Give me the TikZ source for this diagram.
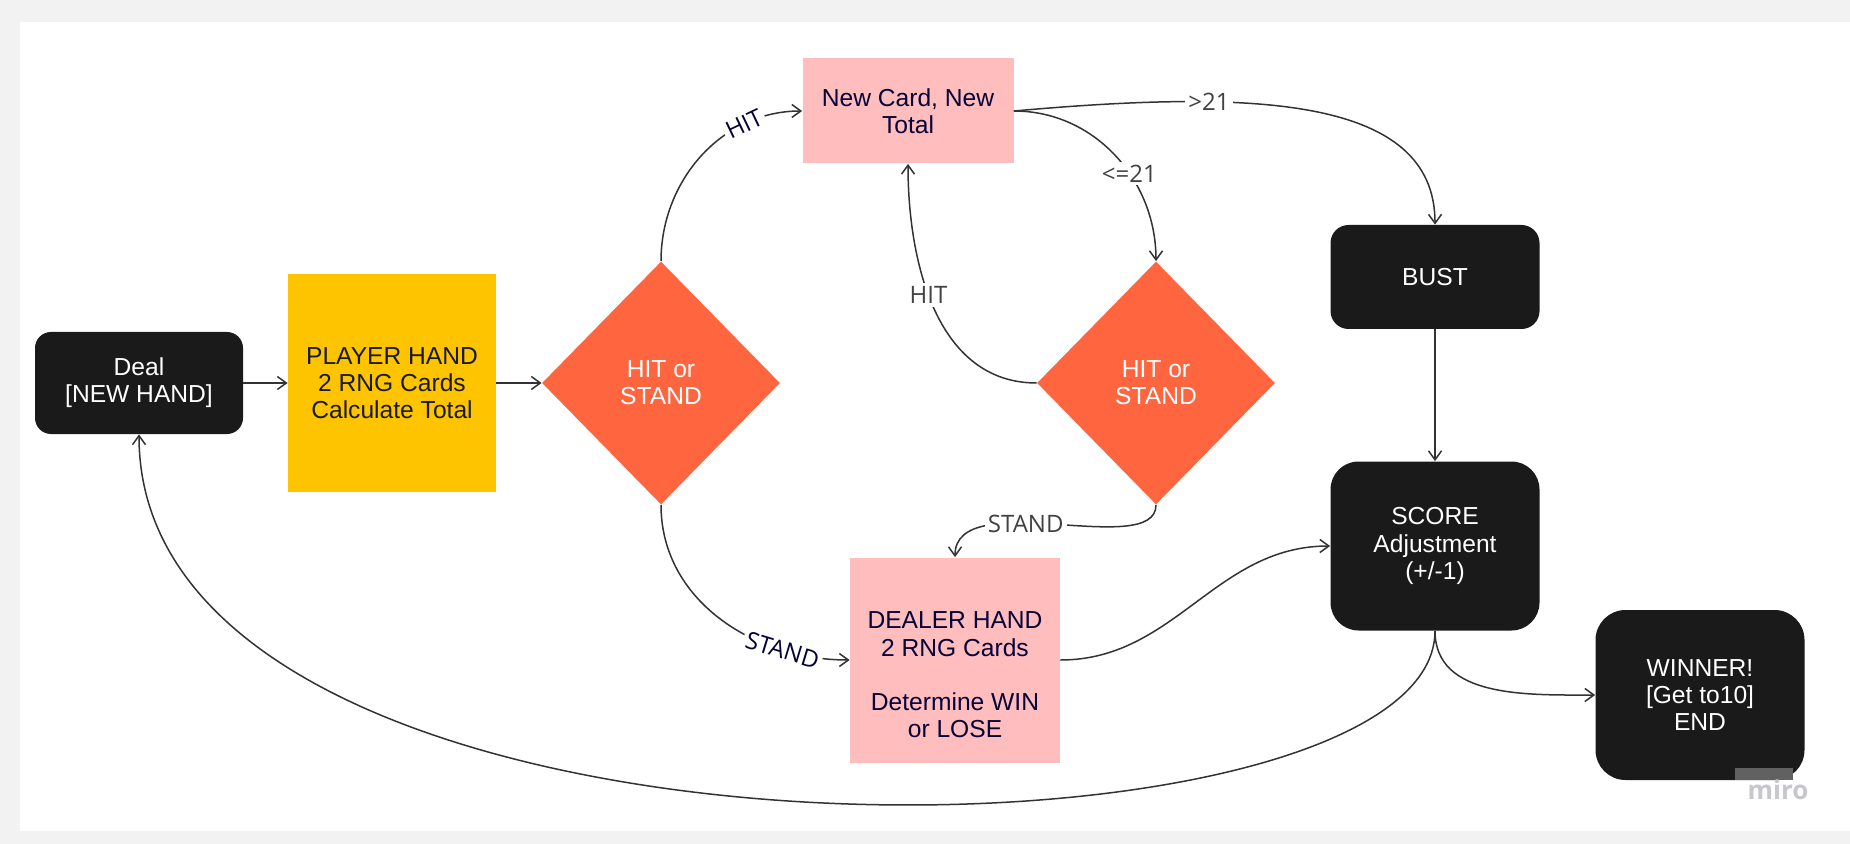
\documentclass[tikz,border=0pt]{standalone}
\usepackage{fontspec}
\setmainfont{Liberation Sans}
\newfontfamily\tagfont{Open Sans}
\usepackage{xcolor}
\usepackage{tikz}
\usetikzlibrary{shapes,arrows.meta,positioning}
\definecolor{boxblack}{HTML}{1A1A1A}
\definecolor{playeryellow}{HTML}{FEC400}
\definecolor{choiceorange}{HTML}{FF6640}
\definecolor{cardpink}{HTML}{FFBDBE}
\definecolor{inknavy}{HTML}{050038}
\definecolor{linegrey}{HTML}{333333}
\definecolor{taggrey}{HTML}{414141}
\definecolor{panelgrey}{HTML}{F2F2F2}
\definecolor{logogrey}{HTML}{C6C6CC}
\tikzstyle{line} = [draw=linegrey, line width=0.75pt, -{Straight Barb[length=4.5pt,width=6.5pt]}]
\tikzstyle{box} = [align=center, inner sep=0pt, font=\fontsize{12.3pt}{13.6pt}\selectfont]
\tikzstyle{blackbox} = [box, fill=boxblack, text=white, minimum width=104.5pt]
\tikzstyle{pinkbox} = [box, fill=cardpink, text=inknavy]
\tikzstyle{choice} = [box, diamond, aspect=1, fill=choiceorange, text=white, minimum width=119pt, minimum height=121.5pt]
\tikzstyle{tag} = [fill=white, inner sep=1.5pt, text=taggrey, font=\tagfont\fontsize{12pt}{13pt}\selectfont]

\begin{document}
\begin{tikzpicture}[x=0.5pt,y=-0.5pt]
		\useasboundingbox (0,0) rectangle (1850,844);
		\fill[panelgrey] (0,0) rectangle (1850,844); %backdrop
		\fill[white] (20,22) rectangle (1850,831); %board
		
		% boxes from left to right
		\node[blackbox, minimum width=104pt, minimum height=51pt, rounded corners=8pt] (deal) at (139,383) {Deal\\{[NEW HAND]}}; % start
		\node[box, fill=playeryellow, text=boxblack, minimum width=104pt, minimum height=109pt] (player) at (392,383) {PLAYER HAND\\2 RNG Cards\\Calculate Total}; % player
		\node[choice] (choice1) at (661,383) {HIT or\\STAND}; % first choice
		\node[pinkbox, minimum width=105.5pt, minimum height=52.5pt] (newcard) at (908,111) {New Card, New\\Total}; % hit
		\node[choice] (choice2) at (1156,383) {HIT or\\STAND}; % second choice
		\node[pinkbox, minimum width=105pt, minimum height=102.5pt] (dealer) at (955,660) {}; % dealer
		\node[box, text=inknavy] (dealertext) at (955,675) {DEALER HAND\\2 RNG Cards\\[13.6pt]Determine WIN\\or LOSE}; % dealer text, sits low
		\node[blackbox, minimum height=52pt, rounded corners=9pt] (bust) at (1435,277) {BUST}; % over 21
		\node[blackbox, minimum height=84.5pt, rounded corners=14pt] (score) at (1435,546) {SCORE\\Adjustment\\(+/-1)}; % score
		\node[blackbox, minimum height=85pt, rounded corners=15pt] (winner) at (1700,695) {WINNER!\\{[Get to10]}\\END}; % end
		
		\fill[black!62] (1735,768) rectangle (1793,780); %logo patch
		\node[text=logogrey, font=\tagfont\bfseries\fontsize{13pt}{13pt}\selectfont] (logo) at (1778,790) {miro}; %logo
		
		\draw[line] (deal) -- (player); %deal to player
		\draw[line] (player) -- (choice1); %player to choice
		\draw[line] (choice1.north) to[out=90,in=180] node[tag, text=inknavy, sloped, pos=0.74]{HIT} (newcard.west); %hit
		\draw[line] (choice1.south) to[out=-90,in=180] node[tag, text=inknavy, sloped, pos=0.76]{STAND} (dealer.west); %stand
		\draw[line] (newcard.east) .. controls (1250,90) and (1435,95) .. (bust.north) node[tag, pos=0.3]{>21}; %bust
		\draw[line] (newcard.east) to[out=0,in=90] node[tag, pos=0.6]{<=21} (choice2.north); %still in
		\draw[line] (choice2.west) to[out=180,in=-90] node[tag, pos=0.56]{HIT} (newcard.south); %hit again
		\draw[line] (choice2.south) .. controls (1156,560) and (955,485) .. (dealer.north) node[tag, pos=0.6]{STAND}; %stand
		\draw[line] (dealer.east) to[out=0,in=180] (score.west); %dealer to score
		\draw[line] (bust) -- (score); %bust to score
		\draw[line] (score.south) to[out=-90,in=180] (winner.west); %win
		\draw[line] (score.south) .. controls (1435,880) and (139,900) .. (deal.south); %next hand
		
\end{tikzpicture}
\end{document}
